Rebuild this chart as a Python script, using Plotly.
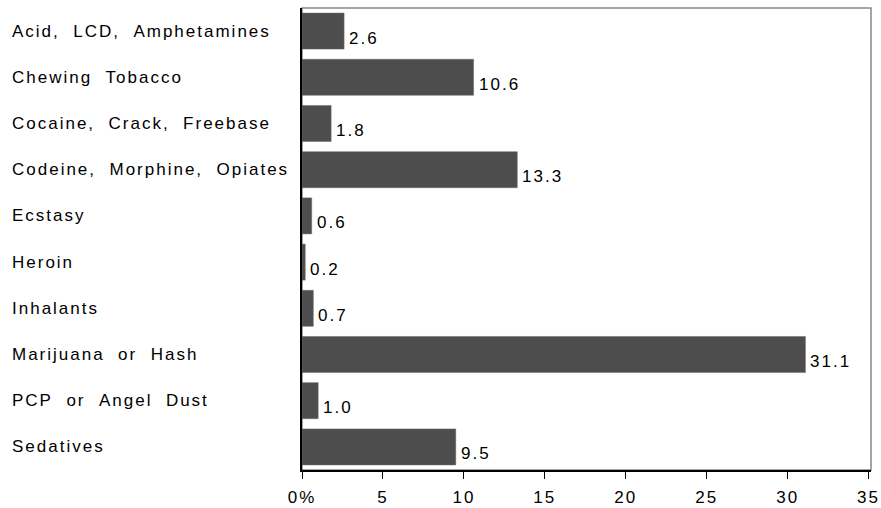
import plotly.graph_objects as go

# Data
substances = ['Acid, LCD, Amphetamines', 'Chewing Tobacco', 'Cocaine, Crack, Freebase',
              'Codeine, Morphine, Opiates', 'Ecstasy', 'Heroin', 'Inhalants',
              'Marijuana or Hash', 'PCP or Angel Dust', 'Sedatives']
percent = [2.6, 10.6, 1.8, 13.3, 0.6, 0.2, 0.7, 31.1, 1.0, 9.5]
tick_vals = [0, 5, 10, 15, 20, 25, 30, 35]
tick_text = ['0%', '5', '10', '15', '20', '25', '30', '35']

FONT = 'Liberation Sans, Arial, sans-serif'
W, H = 881, 508
L, R, T, B = 302, 10, 8, 38
plot_w = W - L - R

fig = go.Figure()
fig.add_trace(go.Bar(
    x=percent, y=substances, orientation='h',
    marker=dict(color='#4d4d4d', line=dict(color='#6a6a6a', width=0.5)),
    width=0.78, showlegend=False, hoverinfo='x+y'
))

# value labels just right of bar ends, a bit below centre
for s, v in zip(substances, percent):
    fig.add_annotation(x=v, y=s, text=f'{v:.1f}', showarrow=False, align='left',
                       xanchor='left', yanchor='middle', xshift=3, yshift=-7,
                       font=dict(family=FONT, size=17, color='black'))

# left-aligned category labels
for s in substances:
    fig.add_annotation(x=(10 - L) / plot_w, xref='paper', y=s, text=s.replace(' ', '\u00a0\u00a0'),
                       showarrow=False, align='left', xanchor='left', yanchor='middle',
                       font=dict(family=FONT, size=17, color='black'))

# frame: grey top/right
fig.add_shape(type='rect', xref='paper', yref='paper', x0=0, x1=1, y0=0, y1=1,
              line=dict(color='#888888', width=1.5), layer='below')

fig.update_layout(
    template='none',
    width=W, height=H,
    margin=dict(l=L, r=R, t=T, b=B),
    plot_bgcolor='white', paper_bgcolor='white',
    xaxis=dict(range=[0, 35.15], tickvals=tick_vals, ticktext=tick_text, automargin=False,
               showgrid=False, zeroline=False, showline=True, linecolor='black', linewidth=1.5,
               ticks='outside', ticklen=7, tickcolor='black', ticklabelstandoff=4,
               tickfont=dict(family=FONT, size=17, color='black')),
    yaxis=dict(autorange='reversed', showticklabels=False, showgrid=False, zeroline=False,
               automargin=False, showline=True, linecolor='black', linewidth=1.5, ticks=''),
    font=dict(family=FONT)
)

# no page margin; the original lettering is widely spaced
page_js = """
document.body.style.margin = '0';
var st = document.createElement('style');
st.textContent = '.annotation-text, .xtick text { letter-spacing: 2px; }';
document.head.appendChild(st);
"""

fig.write_html('out.html', post_script=page_js, config={'displayModeBar': False})
